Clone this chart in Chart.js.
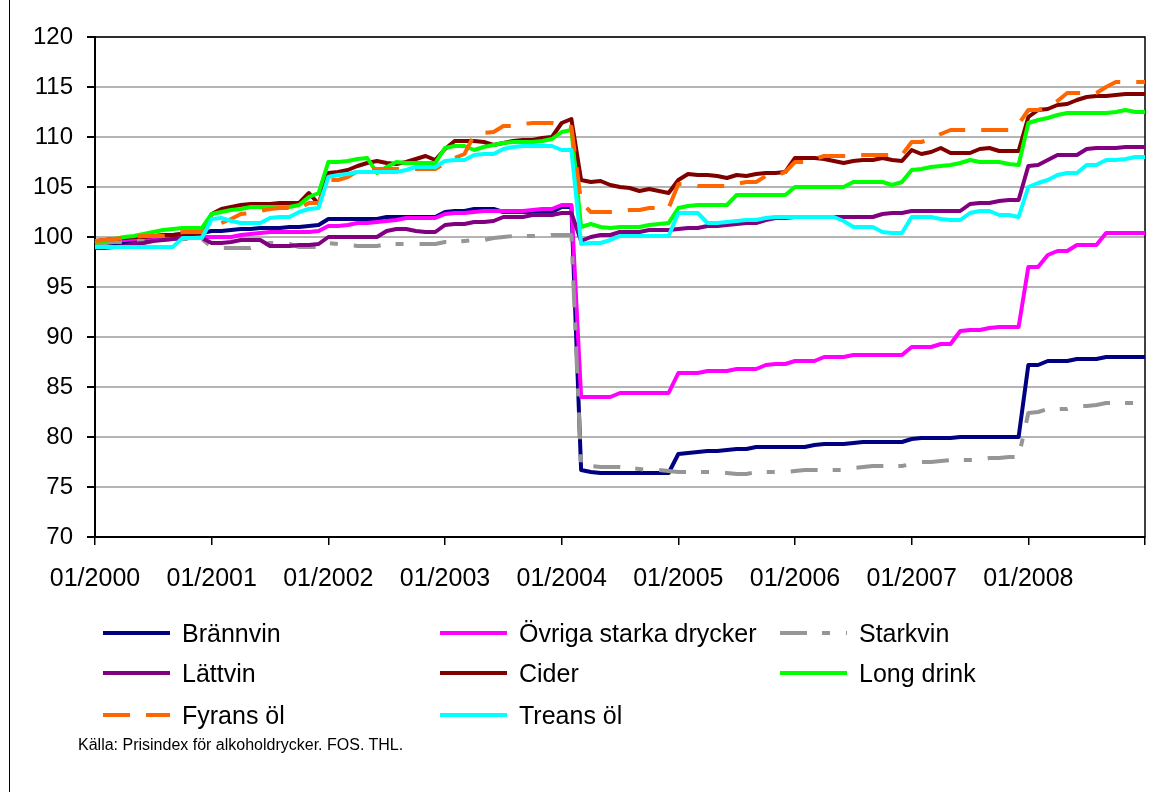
<!DOCTYPE html>
<html>
<head>
<meta charset="utf-8">
<title>Prisindex för alkoholdrycker</title>
<script src="https://cdn.jsdelivr.net/npm/chart.js@4.4.1/dist/chart.umd.min.js"></script>
<style>
  html, body { margin: 0; padding: 0; background: #fff; }
  #wrap { position: relative; width: 1152px; height: 792px; font-family: "Liberation Sans", Arial, sans-serif; }
  #frame { position: absolute; left: 9px; top: 0; width: 1px; height: 792px; background: #000; }
  .item { position: absolute; height: 30px; display: flex; align-items: center; font-size: 25px; color: #000; white-space: nowrap; }
  .item svg { margin-right: 12px; }
  #source { position: absolute; left: 78px; top: 736px; font-size: 16px; color: #000; }
</style>
</head>
<body>
<div id="wrap">
  <canvas id="chart"></canvas>
  <div id="frame"></div>
  <div id="legend"></div>
  <div id="source">Källa: Prisindex för alkoholdrycker. FOS. THL.</div>
</div>
<script>
// tick labels on the x axis (one per year)
const yearTicks = ['01/2000', '01/2001', '01/2002', '01/2003', '01/2004', '01/2005', '01/2006', '01/2007', '01/2008'];

// monthly categories 01/2000 .. 01/2009
const months = [];
for (let y = 2000; y <= 2009; y++) {
    for (let m = 1; m <= 12; m++) {
        if (y === 2009 && m > 1) break;
        months.push((m < 10 ? '0' + m : '' + m) + '/' + y);
    }
}

const seriesNames = ['Brännvin', 'Övriga starka drycker', 'Starkvin', 'Lättvin', 'Cider', 'Long drink', 'Fyrans öl', 'Treans öl'];

const brannvin = [
    98.9, 99.0, 99.2, 99.4, 99.6, 99.8, 99.9, 100.1, 100.2, 100.3, 100.3, 100.4,
    100.6, 100.6, 100.7, 100.8, 100.8, 100.9, 100.9, 100.9, 101.0, 101.0, 101.1, 101.2,
    101.8, 101.8, 101.8, 101.8, 101.8, 101.8, 102.0, 102.0, 102.0, 102.0, 102.0, 102.0,
    102.5, 102.6, 102.6, 102.8, 102.8, 102.8, 102.5, 102.5, 102.5, 102.5, 102.5, 102.5,
    103.0, 103.0, 76.7, 76.5, 76.4, 76.4, 76.4, 76.4, 76.4, 76.4, 76.4, 76.4,
    78.3, 78.4, 78.5, 78.6, 78.6, 78.7, 78.8, 78.8, 79.0, 79.0, 79.0, 79.0,
    79.0, 79.0, 79.2, 79.3, 79.3, 79.3, 79.4, 79.5, 79.5, 79.5, 79.5, 79.5,
    79.8, 79.9, 79.9, 79.9, 79.9, 80.0, 80.0, 80.0, 80.0, 80.0, 80.0, 80.0,
    87.2, 87.2, 87.6, 87.6, 87.6, 87.8, 87.8, 87.8, 88.0, 88.0, 88.0, 88.0,
    88.0
];

const ovriga = [
    99.4, 99.5, 99.6, 99.7, 99.8, 99.9, 99.9, 100.0, 100.0, 100.0, 100.0, 100.0,
    100.0, 100.0, 100.0, 100.2, 100.3, 100.4, 100.5, 100.5, 100.5, 100.5, 100.5, 100.6,
    101.1, 101.1, 101.2, 101.4, 101.4, 101.5, 101.6, 101.7, 101.9, 101.9, 101.9, 101.9,
    102.3, 102.4, 102.4, 102.5, 102.6, 102.6, 102.6, 102.6, 102.6, 102.7, 102.8, 102.8,
    103.2, 103.2, 84.0, 84.0, 84.0, 84.0, 84.4, 84.4, 84.4, 84.4, 84.4, 84.4,
    86.4, 86.4, 86.4, 86.6, 86.6, 86.6, 86.8, 86.8, 86.8, 87.2, 87.3, 87.3,
    87.6, 87.6, 87.6, 88.0, 88.0, 88.0, 88.2, 88.2, 88.2, 88.2, 88.2, 88.2,
    89.0, 89.0, 89.0, 89.3, 89.3, 90.6, 90.7, 90.7, 90.9, 91.0, 91.0, 91.0,
    97.0, 97.0, 98.2, 98.6, 98.6, 99.2, 99.2, 99.2, 100.4, 100.4, 100.4, 100.4,
    100.4
];

const starkvin = [
    99.3, 99.4, 99.5, 99.5, 99.6, 99.6, 99.7, 99.7, 99.8, 99.8, 99.8, 99.8,
    99.0, 98.9, 98.9, 98.9, 98.9, 99.2, 99.4, 99.4, 99.3, 99.0, 99.0, 99.0,
    99.4, 99.3, 99.2, 99.1, 99.1, 99.1, 99.3, 99.3, 99.3, 99.3, 99.3, 99.3,
    99.5, 99.5, 99.6, 99.7, 99.7, 99.9, 100.0, 100.1, 100.1, 100.1, 100.1, 100.2,
    100.2, 100.2, 77.1, 77.1, 77.0, 77.0, 77.0, 76.9, 76.8, 76.7, 76.7, 76.6,
    76.5, 76.5, 76.5, 76.5, 76.5, 76.4, 76.3, 76.3, 76.5, 76.5, 76.5, 76.5,
    76.6, 76.7, 76.7, 76.7, 76.7, 76.7, 76.9, 77.0, 77.1, 77.1, 77.1, 77.1,
    77.3, 77.5, 77.5, 77.6, 77.7, 77.7, 77.7, 77.7, 77.9, 77.9, 78.0, 78.0,
    82.4, 82.5, 82.8, 82.8, 82.8, 83.1, 83.1, 83.2, 83.4, 83.4, 83.4, 83.4,
    83.4
];

const lattvin = [
    98.9, 98.9, 99.0, 99.1, 99.3, 99.4, 99.6, 99.7, 99.8, 99.9, 99.9, 99.9,
    99.4, 99.4, 99.5, 99.7, 99.7, 99.7, 99.1, 99.1, 99.1, 99.2, 99.2, 99.3,
    100.0, 100.0, 100.0, 100.0, 100.0, 100.0, 100.6, 100.8, 100.8, 100.6, 100.5, 100.5,
    101.2, 101.3, 101.3, 101.5, 101.5, 101.6, 102.0, 102.0, 102.0, 102.2, 102.2, 102.2,
    102.4, 102.4, 99.6, 100.0, 100.2, 100.2, 100.5, 100.5, 100.5, 100.7, 100.7, 100.7,
    100.8, 100.9, 100.9, 101.1, 101.1, 101.2, 101.3, 101.4, 101.4, 101.7, 101.9, 101.9,
    102.0, 102.0, 102.0, 102.0, 102.0, 102.0, 102.0, 102.0, 102.0, 102.3, 102.4, 102.4,
    102.6, 102.6, 102.6, 102.6, 102.6, 102.6, 103.3, 103.4, 103.4, 103.6, 103.7, 103.7,
    107.1, 107.2, 107.7, 108.2, 108.2, 108.2, 108.8, 108.9, 108.9, 108.9, 109.0, 109.0,
    109.0
];

const cider = [
    99.6, 99.7, 99.8, 99.9, 100.0, 100.0, 100.1, 100.2, 100.2, 100.3, 100.3, 100.4,
    102.3, 102.8, 103.0, 103.2, 103.3, 103.3, 103.3, 103.4, 103.4, 103.4, 104.4, 103.3,
    106.4, 106.5, 106.7, 107.1, 107.4, 107.6, 107.4, 107.3, 107.5, 107.8, 108.1, 107.7,
    108.8, 109.6, 109.6, 109.6, 109.5, 109.2, 109.4, 109.6, 109.7, 109.7, 109.9, 110.0,
    111.4, 111.8, 105.7, 105.5, 105.6, 105.2, 105.0, 104.9, 104.6, 104.8, 104.6, 104.4,
    105.7, 106.3, 106.2, 106.2, 106.1, 105.9, 106.2, 106.1, 106.3, 106.4, 106.4, 106.5,
    107.9, 107.9, 107.9, 107.8, 107.6, 107.4, 107.6, 107.7, 107.7, 107.9, 107.7, 107.6,
    108.7, 108.3, 108.5, 108.9, 108.4, 108.4, 108.4, 108.8, 108.9, 108.6, 108.6, 108.6,
    112.0, 112.7, 112.8, 113.2, 113.3, 113.7, 114.0, 114.1, 114.1, 114.2, 114.3, 114.3,
    114.3
];

const longDrink = [
    99.4, 99.6, 99.8, 100.0, 100.1, 100.3, 100.5, 100.7, 100.8, 100.9, 100.9, 100.9,
    102.3, 102.5, 102.7, 102.8, 103.0, 103.0, 103.0, 103.0, 103.0, 103.2, 104.0, 104.4,
    107.5, 107.5, 107.6, 107.8, 107.9, 106.4, 107.0, 107.5, 107.4, 107.4, 107.4, 107.4,
    108.9, 109.1, 109.1, 108.7, 109.0, 109.2, 109.4, 109.5, 109.5, 109.5, 109.6, 109.8,
    110.5, 110.7, 101.0, 101.3, 101.0, 100.9, 101.0, 101.0, 101.0, 101.2, 101.3, 101.4,
    102.9, 103.1, 103.2, 103.2, 103.2, 103.2, 104.2, 104.2, 104.2, 104.2, 104.2, 104.2,
    105.0, 105.0, 105.0, 105.0, 105.0, 105.0, 105.5, 105.5, 105.5, 105.5, 105.2, 105.5,
    106.7, 106.8, 107.0, 107.1, 107.2, 107.4, 107.7, 107.5, 107.5, 107.5, 107.3, 107.2,
    111.4, 111.7, 111.9, 112.2, 112.4, 112.4, 112.4, 112.4, 112.4, 112.5, 112.7, 112.5,
    112.5
];

const fyransOl = [
    99.6, 99.7, 99.8, 99.9, 100.0, 100.1, 100.1, 100.1, 100.3, 100.5, 100.5, 100.5,
    101.0, 101.4, 101.8, 102.3, 102.4, 102.6, 102.8, 102.9, 102.9, 102.9, 103.4, 103.4,
    105.7, 105.7, 106.0, 106.6, 106.8, 106.8, 106.8, 106.8, 106.8, 106.8, 106.8, 106.8,
    107.4, 107.9, 108.3, 110.2, 110.4, 110.5, 111.1, 111.1, 111.3, 111.4, 111.4, 111.4,
    111.2, 111.0, 103.5, 102.5, 102.5, 102.5, 102.6, 102.7, 102.7, 102.9, 102.9, 102.9,
    105.3, 105.3, 105.1, 105.1, 105.1, 105.1, 105.3, 105.5, 105.5, 106.1, 106.1, 106.5,
    107.5, 107.5, 107.8, 108.1, 108.1, 108.1, 108.1, 108.2, 108.2, 108.2, 108.2, 108.2,
    109.5, 109.5, 109.8, 110.3, 110.7, 110.7, 110.7, 110.7, 110.7, 110.7, 110.7, 111.3,
    112.7, 112.7, 113.0, 113.6, 114.4, 114.4, 114.4, 114.4, 115.0, 115.5, 115.5, 115.5,
    115.5
];

const treansOl = [
    99.0, 99.0, 99.0, 99.0, 99.0, 99.0, 99.0, 99.0, 99.0, 99.9, 99.9, 99.9,
    101.8, 101.9, 101.6, 101.4, 101.4, 101.4, 101.9, 102.0, 102.0, 102.5, 102.8, 102.9,
    106.0, 106.2, 106.3, 106.5, 106.5, 106.5, 106.5, 106.5, 106.7, 107.0, 107.0, 107.0,
    107.6, 107.7, 107.7, 108.2, 108.3, 108.3, 108.8, 109.0, 109.1, 109.1, 109.1, 109.1,
    108.7, 108.7, 99.3, 99.4, 99.4, 99.7, 100.1, 100.1, 100.1, 100.1, 100.1, 100.1,
    102.4, 102.4, 102.4, 101.4, 101.4, 101.5, 101.6, 101.7, 101.7, 101.9, 102.0, 102.0,
    102.0, 102.0, 102.0, 102.0, 102.0, 101.6, 101.0, 101.0, 101.0, 100.5, 100.4, 100.4,
    102.0, 102.0, 102.0, 101.8, 101.7, 101.7, 102.4, 102.6, 102.6, 102.2, 102.2, 102.0,
    105.0, 105.4, 105.7, 106.2, 106.4, 106.4, 107.2, 107.2, 107.7, 107.7, 107.8, 108.0,
    108.0
];

const seriesData = [brannvin, ovriga, starkvin, lattvin, cider, longDrink, fyransOl, treansOl];
const colors = ['#000080', '#ff00ff', '#969696', '#800080', '#800000', '#00ff00', '#ff6600', '#00ffff'];
const dashes = [[], [], [27, 15, 8, 16], [], [], [], [27, 16], []];

const FONT = '"Liberation Sans", Arial, sans-serif';

// black frame round the plot area, like the Excel original
const plotFrame = {
    id: 'plotFrame',
    beforeDatasetsDraw(chart) {
        const { ctx, chartArea: a } = chart;
        ctx.save();
        ctx.strokeStyle = '#000';
        ctx.lineWidth = 1.5;
        ctx.strokeRect(a.left, a.top, a.right - a.left, a.bottom - a.top);
        ctx.restore();
    }
};

const datasets = seriesNames.map((name, i) => ({
    label: name,
    data: seriesData[i],
    borderColor: colors[i],
    backgroundColor: colors[i],
    borderWidth: 4,
    borderDash: dashes[i],
    borderJoinStyle: 'round',
    pointRadius: 0,
    tension: 0,
    fill: false,
    order: seriesNames.length - i // later series drawn on top
}));

const ctx = document.getElementById('chart').getContext('2d');
new Chart(ctx, {
    type: 'line',
    data: { labels: months, datasets: datasets },
    options: {
        responsive: true,
        maintainAspectRatio: false,
        animation: false,
        layout: { padding: { left: 0, top: 37, right: 7, bottom: 195 } },
        plugins: {
            legend: { display: false },
            tooltip: { enabled: false }
        },
        scales: {
            x: {
                offset: false,
                border: { display: true, color: '#000', width: 2 },
                grid: {
                    drawOnChartArea: false,
                    drawTicks: true,
                    tickLength: 8,
                    lineWidth: 1.5,
                    tickColor: c => (c.index % 12 === 0 ? '#000' : 'rgba(0,0,0,0)')
                },
                ticks: {
                    autoSkip: false,
                    maxRotation: 0,
                    padding: 19,
                    color: '#000',
                    font: { family: FONT, size: 25 },
                    callback: (v, i) => (i % 12 === 0 && yearTicks[i / 12] ? yearTicks[i / 12] : '')
                },
                afterFit: s => {
                    s.height = 60;
                    s.paddingLeft = 0;
                    s.paddingRight = 0;
                }
            },
            y: {
                min: 70,
                max: 120,
                border: { display: true, color: '#000', width: 2 },
                grid: {
                    color: '#b4b4b4',
                    lineWidth: 2,
                    tickLength: 8,
                    tickColor: '#000'
                },
                ticks: {
                    stepSize: 5,
                    padding: 14,
                    color: '#000',
                    font: { family: FONT, size: 24 }
                },
                afterFit: s => { s.width = 95; }
            }
        }
    },
    plugins: [plotFrame]
});

// legend in three columns, same order as the original
const legendCols = [103, 440, 780];
const legendRows = [618, 658, 700];
const legend = document.getElementById('legend');
seriesNames.forEach((name, i) => {
    const div = document.createElement('div');
    div.className = 'item';
    div.style.left = legendCols[i % 3] + 'px';
    div.style.top = legendRows[Math.floor(i / 3)] + 'px';
    const d = dashes[i].length ? dashes[i].join(' ') : 'none';
    div.innerHTML = '<svg width="67" height="8"><line x1="0" y1="4" x2="67" y2="4" stroke="' + colors[i] +
        '" stroke-width="4" stroke-dasharray="' + d + '"/></svg>';
    const span = document.createElement('span');
    span.textContent = name;
    div.appendChild(span);
    legend.appendChild(div);
});
</script>
</body>
</html>
